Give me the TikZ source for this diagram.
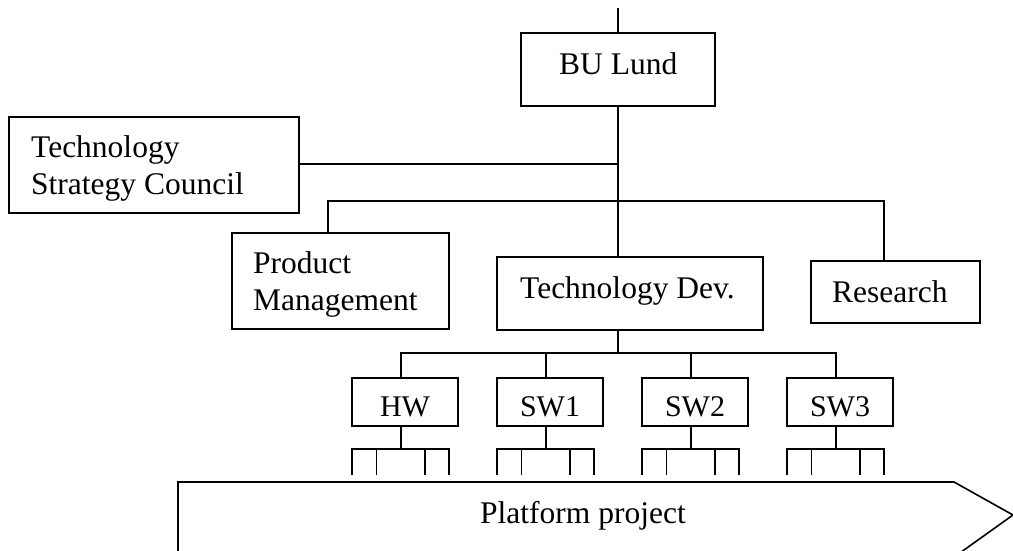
\documentclass[tikz,border=0pt]{standalone}
\usepackage{fontspec}
\setmainfont{Liberation Serif}
\begin{document}
\begin{tikzpicture}[x=1pt, y=-1pt,
  box/.style={draw, line width=1.6pt, inner sep=0pt},
  link/.style={line width=1.5pt},
  txt/.style={inner sep=0pt, font=\fontsize{31.5}{37}\selectfont},
  unit/.style={box, minimum width=106pt, minimum height=48pt},
  utxt/.style={inner sep=0pt, font=\fontsize{30}{36}\selectfont, anchor=base}
]
\useasboundingbox (0,0) rectangle (1013,550);
\clip (0,0) rectangle (1013,550);

% organisation boxes
\node[box, minimum width=194pt, minimum height=73pt] (bu)  at (618,69.5)  {};
\node[box, minimum width=290pt, minimum height=96pt] (tsc) at (154,165)   {};
\node[box, minimum width=217pt, minimum height=96pt] (pm)  at (340.5,281) {};
\node[box, minimum width=266pt, minimum height=73pt] (td)  at (630,293.5) {};
\node[box, minimum width=169pt, minimum height=62pt] (res) at (895.5,292) {};

% box labels
\node[txt, anchor=base west] (bu-t) at (559,74) {BU Lund};
\node[txt, anchor=north west, align=left] (tsc-t) at (31,135.5) {Technology\\Strategy Council};
\node[txt, anchor=north west, align=left] (pm-t) at (253,251.5) {Product\\Management};
\node[txt, anchor=base west] (td-t) at (520,298) {Technology Dev.};
\node[txt, anchor=base west] (res-t) at (832,302) {Research};

% upper connectors
\coordinate (top)  at (618,8);
\coordinate (tscj) at (618,164);
\coordinate (pmx)  at (328,201);
\coordinate (resx) at (884,201);
\coordinate (tdj)  at (618,353);
\draw[link] (top) -- (bu.north);
\draw[link] (bu.south) -- (td.north -| bu.south);
\draw[link] (tsc.east |- tscj) -- (tscj);
\draw[link] (pm.north -| pmx) -- (pmx) -- (resx) -- (res.north -| resx);
\draw[link] (td.south -| tdj) -- (tdj);

% development units with their team ticks
\foreach \n/\t [count=\i from 0] in {hw/HW, sw1/SW1, sw2/SW2, sw3/SW3}{
  \node[unit] (\n) at ({405+145*\i},402) {};
  \node[utxt] (\n-t) at ({405+145*\i},416) {\t};
  \coordinate (\n-j) at ({401+145*\i},449);
  \draw[link] ([xshift=-4pt]\n.north) |- (tdj);
  \draw[link] ([xshift=-4pt]\n.south) -- (\n-j);
  \draw[link] ({352+145*\i},475) -- ({352+145*\i},449) -- ({449+145*\i},449) -- ({449+145*\i},475);
  \draw[link] ({376.7+145*\i},449) -- ++(0,26);
  \draw[link] ({425+145*\i},449) -- ++(0,26);
}

% platform project arrow
\draw[line width=1.6pt] (178,560) -- (178,482) -- (954,482) -- (1013,515) -- (950,560);
\node[txt, anchor=base west] (plat) at (480,523) {Platform project};
\end{tikzpicture}
\end{document}
